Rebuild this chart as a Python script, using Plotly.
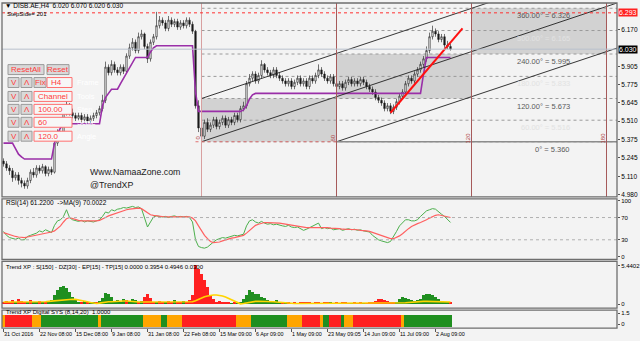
import plotly.graph_objects as go

# ---------------- data ----------------
x_label_bars = [0, 12, 24, 36, 48, 60, 72, 84, 96, 108, 120, 132, 144]
x_labels = ["31 Oct 2016", "22 Nov 08:00", "15 Dec 08:00", "9 Jan 08:00", "31 Jan 08:00",
            "22 Feb 08:00", "15 Mar 09:00", "6 Apr 09:00", "1 May 09:00", "23 May 09:05",
            "14 Jun 09:00", "11 Jul 09:00", "2 Aug 09:00"]

opens = [5.22,5.20,5.17,5.15,5.10,5.12,5.08,5.06,5.04,5.08,
         5.14,5.12,5.17,5.15,5.18,5.13,5.16,5.14,5.35,5.42,
         5.40,5.58,5.62,5.57,5.55,5.53,5.55,5.52,5.54,5.51,
         5.53,5.55,5.57,5.60,5.66,5.90,5.86,5.92,5.88,5.86,
         5.90,5.87,5.98,6.04,6.08,6.02,6.12,6.14,6.05,5.96,
         6.08,6.12,6.20,6.24,6.22,6.18,6.24,6.21,6.23,6.19,
         6.22,6.20,6.24,6.21,6.16,5.62,5.46,5.40,5.50,5.45,
         5.48,5.52,5.47,5.50,5.53,5.48,5.52,5.50,5.55,5.52,
         5.60,5.62,5.78,5.82,5.85,5.80,5.84,5.92,5.88,5.86,
         5.84,5.88,5.84,5.82,5.80,5.78,5.80,5.76,5.79,5.82,
         5.78,5.80,5.76,5.82,5.80,5.84,5.88,5.85,5.82,5.80,
         5.83,5.78,5.76,5.78,5.75,5.79,5.81,5.78,5.80,5.78,
         5.81,5.79,5.76,5.74,5.72,5.68,5.66,5.64,5.60,5.62,
         5.58,5.61,5.65,5.69,5.72,5.78,5.82,5.80,5.85,5.88,
         5.92,5.96,6.02,6.12,6.16,6.14,6.10,6.12,6.06,6.05]
highs = [5.24,5.22,5.19,5.17,5.14,5.14,5.10,5.08,5.10,5.16,
         5.17,5.19,5.19,5.20,5.19,5.18,5.18,5.38,5.45,5.44,
         5.60,5.66,5.64,5.60,5.57,5.57,5.57,5.56,5.56,5.55,
         5.57,5.59,5.62,5.70,5.94,5.92,5.95,5.94,5.90,5.92,
         5.92,6.00,6.07,6.11,6.10,6.15,6.17,6.15,6.07,6.10,
         6.14,6.30,6.27,6.26,6.24,6.27,6.26,6.25,6.25,6.24,
         6.24,6.26,6.26,6.23,6.17,5.66,5.50,5.52,5.53,5.50,
         5.54,5.54,5.52,5.55,5.55,5.54,5.54,5.57,5.57,5.62,
         5.65,5.80,5.85,5.87,5.87,5.86,5.95,5.93,5.90,5.88,
         5.90,5.90,5.86,5.84,5.82,5.82,5.82,5.81,5.84,5.84,
         5.82,5.82,5.84,5.84,5.86,5.92,5.90,5.87,5.84,5.85,
         5.85,5.80,5.80,5.80,5.81,5.83,5.83,5.82,5.82,5.83,
         5.83,5.81,5.78,5.76,5.74,5.70,5.68,5.66,5.64,5.64,
         5.63,5.67,5.71,5.74,5.80,5.84,5.84,5.87,5.90,5.94,
         5.98,6.05,6.15,6.20,6.18,6.16,6.14,6.14,6.09,6.07]
lows = [5.18,5.15,5.12,5.07,5.08,5.05,5.03,5.02,5.02,5.06,
        5.10,5.10,5.13,5.13,5.11,5.11,5.12,5.13,5.33,5.37,
        5.38,5.55,5.55,5.53,5.51,5.51,5.50,5.50,5.49,5.49,
        5.51,5.53,5.55,5.58,5.64,5.84,5.84,5.86,5.84,5.84,
        5.85,5.85,5.96,6.02,6.00,6.00,6.10,6.03,5.93,5.94,
        6.06,6.10,6.18,6.20,6.16,6.16,6.19,6.19,6.17,6.17,
        6.18,6.18,6.19,6.14,5.60,5.43,5.36,5.38,5.43,5.43,
        5.46,5.45,5.45,5.48,5.46,5.46,5.48,5.48,5.50,5.50,
        5.58,5.60,5.76,5.80,5.78,5.78,5.82,5.86,5.84,5.82,
        5.82,5.82,5.80,5.78,5.76,5.76,5.74,5.74,5.77,5.76,
        5.76,5.74,5.74,5.78,5.78,5.82,5.83,5.80,5.78,5.78,
        5.76,5.74,5.74,5.73,5.73,5.77,5.76,5.76,5.76,5.76,
        5.77,5.74,5.72,5.70,5.66,5.64,5.62,5.58,5.58,5.56,
        5.56,5.59,5.63,5.67,5.70,5.76,5.78,5.78,5.83,5.86,
        5.90,5.94,6.00,6.10,6.12,6.08,6.08,6.04,6.03,6.02]
closes = [5.20,5.17,5.15,5.10,5.12,5.08,5.06,5.04,5.08,5.14,
          5.12,5.17,5.15,5.18,5.13,5.16,5.14,5.35,5.42,5.40,
          5.58,5.62,5.57,5.55,5.53,5.55,5.52,5.54,5.51,5.53,
          5.55,5.57,5.60,5.66,5.90,5.86,5.92,5.88,5.86,5.90,
          5.87,5.98,6.04,6.08,6.02,6.12,6.14,6.05,5.96,6.08,
          6.12,6.20,6.24,6.22,6.18,6.24,6.21,6.23,6.19,6.22,
          6.20,6.24,6.21,6.16,5.62,5.46,5.40,5.50,5.45,5.48,
          5.52,5.47,5.50,5.53,5.48,5.52,5.50,5.55,5.52,5.60,
          5.62,5.78,5.82,5.85,5.80,5.84,5.92,5.88,5.86,5.84,
          5.88,5.84,5.82,5.80,5.78,5.80,5.76,5.79,5.82,5.78,
          5.80,5.76,5.82,5.80,5.84,5.88,5.85,5.82,5.80,5.83,
          5.78,5.76,5.78,5.75,5.79,5.81,5.78,5.80,5.78,5.81,
          5.79,5.76,5.74,5.72,5.68,5.66,5.64,5.60,5.62,5.58,
          5.61,5.65,5.69,5.72,5.78,5.82,5.80,5.85,5.88,5.92,
          5.96,6.02,6.12,6.16,6.14,6.10,6.12,6.06,6.05,6.03]

step_side = [5.35,5.35,5.35,5.35,5.31,5.27,5.25,5.235,5.235,5.235,
             5.235,5.235,5.235,5.235,5.235,5.235,5.235,5.35,5.42,5.46,
             5.49,5.49,5.49,5.49,5.49,5.49,5.49,5.49,5.49,5.49,
             5.49,5.49,5.49,5.62,5.68,5.71,5.74,5.74,5.74,5.78,
             5.82,5.86,5.90,5.94,5.97,5.97,5.97,5.97,5.97,6.01,
             6.04,6.055,6.055,6.055,6.055,6.055,6.055,6.055,6.055,6.055,
             6.055,6.055,6.055,6.055,5.72,5.58,5.58,5.58,5.58,5.58,
             5.58,5.58,5.58,5.58,5.58,5.58,5.58,5.58,5.58,5.58,
             5.59,5.62,5.67,5.70,5.71,5.71,5.71,5.71,5.71,5.71,
             5.71,5.71,5.71,5.71,5.71,5.71,5.71,5.71,5.71,5.71,
             5.71,5.71,5.71,5.71,5.71,5.71,5.71,5.71,5.71,5.71,
             5.71,5.71,5.71,5.71,5.71,5.71,5.71,5.71,5.71,5.71,
             5.71,5.71,5.71,5.71,5.71,5.71,5.71,5.71,5.71,5.71,
             5.71,5.71,5.71,5.71,5.71,5.71,5.71,5.71,5.71,5.71,
             5.85,5.97,5.97,5.97,5.97,5.97,5.97,5.97,5.97,5.97]

rsi = [45,38,34,32,31,33,30,30,36,38,
       40,42,46,44,48,45,43,56,64,66,
       72,84,70,66,64,63,65,62,64,63,
       62,64,66,72,80,78,84,82,85,86,
       88,87,89,90,88,89,86,70,53,62,
       71,73,72,71,72,70,72,73,71,72,
       71,72,70,62,30,18,16,15,17,22,
       26,30,32,34,33,35,36,38,37,38,
       40,55,64,66,62,60,63,60,58,59,
       57,58,56,55,54,56,53,52,53,50,
       47,49,52,55,57,60,50,52,50,51,
       48,49,50,47,49,50,48,49,47,48,
       46,45,44,38,34,30,28,27,25,27,
       35,45,55,60,66,66,64,64,66,72,
       78,82,84,86,85,80,76,72,66,61.22]
rsi_ma = [43,41,39,37,36,35,34,34,35,36,
          37,38,40,41,42,43,44,46,50,55,
          62,68,70,68,66,65,64,64,64,63,
          63,64,65,67,70,73,75,77,79,81,
          82,84,85,86,87,87,86,82,78,75,
          74,73,72,72,71,71,71,72,71,71,
          71,71,71,69,64,55,46,38,32,27,
          25,25,26,28,30,31,33,34,35,36,
          38,42,47,52,56,58,60,61,61,61,
          60,60,60,59,58,57,57,56,55,54,
          53,52,52,52,53,53,53,52,52,51,
          51,50,50,49,49,49,48,48,48,47,
          47,46,45,43,41,39,37,35,33,32,
          32,34,37,41,46,50,54,57,59,61,
          63,66,69,72,74,75,74,73,71,70.0022]

txp_hist = [0.3,0.4,0.2,0.5,0.3,0.6,0.4,0.2,0.3,0.5,0.2,0.3,0.4,
            0.3,0.2,0.4,0.5,
            1.2,1.9,2.4,2.5,2.2,1.6,1.0,0.6,
            0.3,0.2,0.4,0.3,0.2,0.3,0.2,0.4,
            0.8,1.5,1.4,1.0,
            0.4,0.5,0.3,0.6,0.5,0.4,0.6,0.5,0.3,0.4,
            1.0,1.3,0.8,
            0.3,0.2,0.4,0.3,0.2,0.4,0.3,0.5,0.2,0.3,0.4,0.3,0.5,
            1.2,5.4402,4.9,4.2,3.4,2.4,1.2,0.6,
            0.3,0.4,0.2,0.3,0.2,0.1,0.2,0.1,0.2,
            0.6,1.2,1.9,1.6,1.3,1.4,1.0,0.8,0.5,
            0.4,0.3,0.5,0.3,0.2,0.3,0.2,0.1,0.2,0.1,0.2,
            0.2,0.3,0.2,0.1,0.3,0.2,0.1,0.2,0.3,0.2,0.1,0.2,0.1,0.3,0.2,0.1,0.1,0.2,0.1,0.2,0.1,0.1,0.2,
            0.3,0.4,0.6,0.7,0.5,0.4,0.3,0.2,
            0.3,0.6,0.9,0.8,0.7,0.5,0.4,0.5,0.6,
            1.2,1.4,1.4,1.2,0.9,
            0.6,0.4,0.3,0.2,0.3]
txp_dir = ("rrrrgrrrgrggr" "grgg" "gggggggg" "grgrggrg" "gggg" "ggggrgggrg" "rrr"
           "rgrrgrrgrrgrr" "rrrrrrrr" "rrrrrgrgg" "ggggggggg" "ggggrgrrrrr"
           "rrrgrrgrrgrrgrrrgrrrgrr" "rrrrrrrr" "ggggggggg" "ggggg" "ggggr")
txp_ma = [0.3,0.3,0.35,0.35,0.3,0.3,0.3,0.25,0.25,0.3,0.3,0.3,0.3,
          0.3,0.35,0.4,0.45,0.5,0.55,0.6,0.65,0.68,0.7,
          0.7,0.68,0.62,0.55,0.45,0.35,0.25,0.15,0.1,0.15,
          0.25,0.3,0.35,0.35,0.4,0.4,0.4,0.45,0.45,0.45,0.4,0.35,0.3,0.3,
          0.35,0.35,0.3,0.3,0.25,0.25,0.25,0.3,0.3,0.3,0.3,0.3,0.3,0.3,0.3,0.3,
          0.35,0.5,0.7,0.9,1.05,1.15,1.25,1.3,1.3,1.25,
          1.15,1.0,0.8,0.6,0.4,0.2,0.05,
          0.1,0.2,0.3,0.35,0.4,0.42,0.42,0.4,0.4,0.38,0.35,0.3,0.25,0.2,0.15,
          0.12,0.1,0.1,0.1,0.1,0.1,0.1,0.1,0.1,0.1,0.1,0.1,0.1,0.1,0.1,
          0.1,0.1,0.1,0.1,0.1,0.1,0.1,0.1,0.1,0.1,0.1,0.1,0.12,0.14,0.16,
          0.18,0.2,0.2,0.2,0.2,0.2,0.2,0.2,0.2,
          0.2,0.25,0.3,0.35,0.38,0.4,0.4,0.4,0.4,0.4,0.38,0.36,0.35,0.33,0.3,0.3]
digital_state = ("o" "rrrrrrrrr" "ooo" "ggggggggggggggggggg" "o" "gggggggggggggg"
                 "oooooo" "gg" "ooooo" "rrrrrrrrrrrrrrrrrr" "ooooo" "gggggggggggg"
                 "ooooo" "rrrrrr" "o" "gg" "rrrr" "g" "ooo" "rrrrrrrrrrrrrrrr" "o"
                 "gggggggggggggggg")

price_ticks = [6.170, 5.905, 5.775, 5.645, 5.510, 5.375, 5.245, 5.110, 4.980]
last_price = 6.030
high_line = 6.293
angle_levels = [0, 60, 120, 180, 240, 300, 360]
angle_prices = [5.360, 5.516, 5.673, 5.833, 5.995, 6.165, 6.326]
zone_bars = [66, 111, 156, 201]
zone_labels = ["0", "60", "120", "180"]
channel_slope = 0.00725          # price per bar
trend_start = (129, 5.57)
trend_end = (153, 6.18)

# ---------------- geometry helpers ----------------
W, H = 640, 341
def px(x): return x / W
def py(y): return 1 - y / H

N = len(closes)
assert all(len(a) == N for a in [opens, highs, lows, step_side, rsi, rsi_ma, txp_hist, txp_ma])
assert len(txp_dir) == N and len(digital_state) == N
bars = list(range(N))

X0, X1 = 2, 617
XR = [-0.5, 204.5]
FONT = "Liberation Sans"

fig = go.Figure()

# main price panel
fig.add_trace(go.Candlestick(
    x=bars, open=opens, high=highs, low=lows, close=closes,
    increasing=dict(line=dict(color="#1a1a1a", width=0.6), fillcolor="#ffffff"),
    decreasing=dict(line=dict(color="#1a1a1a", width=0.6), fillcolor="#1a1a1a"),
    whiskerwidth=0, xaxis="x", yaxis="y", showlegend=False, hoverinfo="skip"))
fig.add_trace(go.Scatter(x=bars, y=step_side, mode="lines", line=dict(color="#9a2fa8", width=1.6),
                         xaxis="x", yaxis="y", showlegend=False, hoverinfo="skip"))

# channel lines
ch_start = [(zone_bars[0], angle_prices[2]), (zone_bars[0], angle_prices[0]), (zone_bars[1], angle_prices[0])]
for (b0, p0) in ch_start:
    b1 = XR[1]
    fig.add_trace(go.Scatter(x=[b0, b1], y=[p0, p0 + channel_slope * (b1 - b0)], mode="lines",
                             line=dict(color="#202020", width=0.9), xaxis="x", yaxis="y",
                             showlegend=False, hoverinfo="skip"))
# red trend line
fig.add_trace(go.Scatter(x=[trend_start[0], trend_end[0]], y=[trend_start[1], trend_end[1]], mode="lines",
                         line=dict(color="#ff1010", width=2), xaxis="x", yaxis="y",
                         showlegend=False, hoverinfo="skip"))

# RSI panel
fig.add_trace(go.Scatter(x=bars, y=rsi, mode="lines", line=dict(color="#4caf4c", width=1),
                         xaxis="x", yaxis="y2", showlegend=False, hoverinfo="skip"))
fig.add_trace(go.Scatter(x=bars, y=rsi_ma, mode="lines", line=dict(color="#ff6060", width=1.2),
                         xaxis="x", yaxis="y2", showlegend=False, hoverinfo="skip"))

# Trend XP histogram
cmap = {"g": "#1f8f1f", "r": "#ff2020", "o": "#ffa500"}
fig.add_trace(go.Bar(x=bars, y=txp_hist, marker=dict(color=[cmap[c] for c in txp_dir], line=dict(width=0)),
                     width=0.75, xaxis="x", yaxis="y3", showlegend=False, hoverinfo="skip"))
fig.add_trace(go.Scatter(x=bars, y=txp_ma, mode="lines", line=dict(color="#ffd400", width=1.6),
                         xaxis="x", yaxis="y3", showlegend=False, hoverinfo="skip"))

# Digital panel
fig.add_trace(go.Bar(x=bars, y=[1.63] * N, base=-0.4,
                     marker=dict(color=[cmap[c] for c in digital_state], line=dict(width=0)),
                     width=0.8, xaxis="x", yaxis="y4", showlegend=False, hoverinfo="skip"))

shapes = []
ann = []

# panels: (top px, bottom px)
panels = {"y": (2, 197), "y2": (199, 260), "y3": (262, 309), "y4": (311, 329)}

# fib boxes
box_fill = "#d2d2d2"
for k in range(3):
    shapes.append(dict(type="rect", xref="x", yref="y", x0=zone_bars[k], x1=zone_bars[k + 1],
                       y0=angle_prices[2 * k], y1=angle_prices[2 * k + 2],
                       fillcolor=box_fill, line=dict(width=0), layer="below"))
# level dashed lines
for lv, pr in zip(angle_levels, angle_prices):
    shapes.append(dict(type="line", xref="x", yref="y", x0=zone_bars[0], x1=XR[1], y0=pr, y1=pr,
                       line=dict(color="#9a9a9a", width=1, dash="dot"), layer="below"))
# 0 level: red dotted in first zone, gray solid after
shapes.append(dict(type="line", xref="x", yref="y", x0=zone_bars[0] - 2, x1=zone_bars[1],
                   y0=angle_prices[0], y1=angle_prices[0], line=dict(color="#e07070", width=1, dash="dot")))
shapes.append(dict(type="line", xref="x", yref="y", x0=zone_bars[1], x1=XR[1],
                   y0=angle_prices[0], y1=angle_prices[0], line=dict(color="#8c8c8c", width=1.5)))
# vertical time-zone lines
for k, b in enumerate(zone_bars):
    shapes.append(dict(type="line", xref="x", yref="y domain", x0=b, x1=b, y0=0, y1=1,
                       line=dict(color="#d8a0a0" if k == 0 else "#a65a5a", width=1)))
    ann.append(dict(xref="x", yref="y", x=b - 1.2, y=5.39, text=zone_labels[k], textangle=-90,
                    showarrow=False, font=dict(family=FONT, size=6, color="#b04848"),
                    xanchor="center", yanchor="middle"))
# price lines
shapes.append(dict(type="line", xref="x domain", yref="y", x0=0, x1=1, y0=last_price, y1=last_price,
                   line=dict(color="#b8c0cc", width=1)))
shapes.append(dict(type="line", xref="x domain", yref="y", x0=0, x1=1, y0=high_line, y1=high_line,
                   line=dict(color="#ff3030", width=1, dash="dot")))

# RSI levels
for lv in (70, 30):
    shapes.append(dict(type="line", xref="x domain", yref="y2", x0=0, x1=1, y0=lv, y1=lv,
                       line=dict(color="#b0b0b0", width=1, dash="dot")))

# panel frames
for ax, (t, b) in panels.items():
    shapes.append(dict(type="rect", xref="paper", yref="paper", x0=px(X0), x1=px(X1), y0=py(b), y1=py(t),
                       line=dict(color="#6e6e6e", width=1.3), fillcolor="rgba(0,0,0,0)"))

# level labels
for lv, pr in zip(angle_levels, angle_prices):
    txt = "0° = %.3f" % pr if lv == 0 else "%.2f° = %.3f" % (lv, pr)
    faint = lv in (60, 180, 300)
    ann.append(dict(xref="x", yref="y", x=189.5, y=pr, text=txt, showarrow=False, xanchor="right",
                    yanchor="top", yshift=-1,
                    font=dict(family=FONT, size=7.5, color="#e2e2e2" if faint else "#5a5a5a")))

# price boxes on axis
ann.append(dict(xref="paper", yref="y", x=px(X1 + 1), y=last_price, text="6.030", showarrow=False,
                xanchor="left", yanchor="middle", bgcolor="#000000", borderpad=0,
                font=dict(family=FONT, size=7, color="#ffffff")))
ann.append(dict(xref="paper", yref="y", x=px(X1 + 1), y=high_line, text="%.3f" % high_line, showarrow=False,
                xanchor="left", yanchor="middle", bgcolor="#ff2020", borderpad=0,
                font=dict(family=FONT, size=7, color="#ffffff")))

# header texts
def label(x, y, text, size=6.5, color="#000000", anchor="left", family=FONT):
    ann.append(dict(xref="paper", yref="paper", x=px(x), y=py(y), text=text, showarrow=False,
                    xanchor=anchor, yanchor="middle", font=dict(family=family, size=size, color=color)))

label(3, 5, "▼ DISB.AE,H4  6.020 6.070 6.020 6.030", 6.5)
label(5, 13, "StepSide= 201", 6)
label(4, 203, "RSI(14) 61.2200  ->MA(9) 70.0022", 6.5)
label(4, 268, "Trend XP : S[150] - DZ[30] - EP[15] - TP[15] 0.0000 0.3954 0.4946 0.0300", 6)
label(4, 313, "Trend XP Digital SYS (8,14,20)  1.0000", 6)
label(88, 172, "Www.NamaaZone.com", 8.8, "#222222")
label(88, 185, "@TrendXP", 8.8, "#222222")

# control buttons
def button(x0, x1, y0, y1, text, inp=False):
    shapes.append(dict(type="rect", xref="paper", yref="paper", x0=px(x0), x1=px(x1), y0=py(y1), y1=py(y0),
                       fillcolor="#f7f7f7" if inp else "#d9d9d9",
                       line=dict(color="#ff7070" if inp else "#9a9a9a", width=1)))
    ann.append(dict(xref="paper", yref="paper", x=px(x0 + 2) if inp else px((x0 + x1) / 2), y=py((y0 + y1) / 2),
                    text=text, showarrow=False, xanchor="left" if inp else "center", yanchor="middle",
                    font=dict(family=FONT, size=8, color="#ff3c3c")))

button(8, 44, 64, 74, "ResetAll")
button(47, 69, 64, 74, "Reset")
rows = [(77, 87, "H4", "Frame"), (91, 101, "Channel", "Tools"), (104, 114, "100.00", "Step"),
        (117, 127, "60", "Scale"), (131, 141, "120.0", "Angle")]
for k, (y0, y1, val, name) in enumerate(rows):
    button(8, 19, y0, y1, "V")
    button(21, 32, y0, y1, "Λ")
    if k == 0:
        button(34, 46, y0, y1, "Fix")
        button(47, 72, y0, y1, val, inp=True)
    else:
        button(34, 72, y0, y1, val, inp=True)
    label(75, (y0 + y1) / 2, name, 7.5, "#ffffff")

fig.update_layout(
    width=W, height=H, margin=dict(l=0, r=0, t=0, b=0),
    paper_bgcolor="#f3f3f3", plot_bgcolor="#f3f3f3",
    showlegend=False, bargap=0, shapes=shapes, annotations=ann,
    xaxis=dict(domain=[px(X0), px(X1)], range=XR, anchor="y4", rangeslider=dict(visible=False),
               tickvals=x_label_bars, ticktext=x_labels, ticklabelposition="outside right",
               tickangle=0, ticks="outside", ticklen=3, tickcolor="#555555", showgrid=False,
               zeroline=False, showline=False, tickfont=dict(family=FONT, size=5.4, color="#000000")),
    yaxis=dict(domain=[py(197), py(2)], range=[4.9614, 6.3642], anchor="x", side="right",
               tickvals=price_ticks, ticktext=["%.3f" % v for v in price_ticks], ticks="outside",
               ticklen=2, tickcolor="#555555", showgrid=False, zeroline=False,
               tickfont=dict(family=FONT, size=6.5, color="#000000")),
    yaxis2=dict(domain=[py(260), py(199)], range=[-5.36, 103.6], anchor="x", side="right",
                tickvals=[0, 30, 70, 100], ticks="outside", ticklen=2, tickcolor="#555555",
                showgrid=False, zeroline=False, tickfont=dict(family=FONT, size=6, color="#000000")),
    yaxis3=dict(domain=[py(309), py(262)], range=[-0.558, 6.0], anchor="x", side="right",
                tickvals=[0, 5.4402], ticktext=["0", "5.4402"], ticks="outside", ticklen=2,
                tickcolor="#555555", showgrid=False, zeroline=False,
                tickfont=dict(family=FONT, size=6, color="#000000")),
    yaxis4=dict(domain=[py(329), py(311)], range=[-0.546, 1.91], anchor="x", side="right",
                tickvals=[0, 1.5], ticktext=["0", "1.5"], ticks="outside", ticklen=2,
                tickcolor="#555555", showgrid=False, zeroline=False,
                tickfont=dict(family=FONT, size=6, color="#000000")),
)

fig.write_html("out.html")
